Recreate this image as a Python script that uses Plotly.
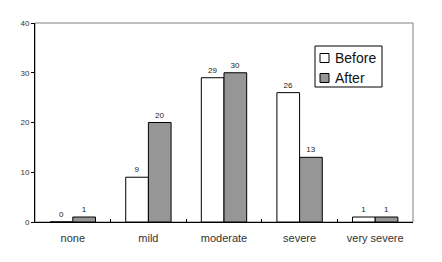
import plotly.graph_objects as go

categories = ["none", "mild", "moderate", "severe", "very severe"]
before = [0, 9, 29, 26, 1]
after = [1, 20, 30, 13, 1]
y_ticks = [0, 10, 20, 30, 40]
series_names = ["Before", "After"]
series_colors = ["white", "#969696"]

fig = go.Figure()
for name, vals, col in zip(series_names, [before, after], series_colors):
    fig.add_trace(go.Bar(name=name, x=categories, y=vals, text=vals,
                         textposition="outside", cliponaxis=False, showlegend=False,
                         marker=dict(color=col, line=dict(color="black", width=1)),
                         textfont=dict(size=8, color="#222")))

# manual legend (pixel-matched box)
W, H = 442, 262
L, R, T, B = 35, 29, 23, 40
pw, ph = W - L - R, H - T - B
def px(x): return (x - L) / pw
def py(y): return (H - B - y) / ph

shapes = [dict(type="rect", xref="paper", yref="paper", x0=0, x1=1, y0=0, y1=1,
               line=dict(color="#808080", width=1), layer="below"),
          dict(type="rect", xref="paper", yref="paper", x0=px(315), x1=px(382),
               y0=py(87), y1=py(46), line=dict(color="black", width=1), fillcolor="white")]
annotations = []
for i, (name, col) in enumerate(zip(series_names, series_colors)):
    cy = 58 + 20 * i
    shapes.append(dict(type="rect", xref="paper", yref="paper", x0=px(320), x1=px(329),
                       y0=py(cy + 4.5), y1=py(cy - 4.5),
                       line=dict(color="black", width=1), fillcolor=col))
    annotations.append(dict(xref="paper", yref="paper", x=px(333), y=py(cy),
                            xanchor="left", yanchor="middle", text=name, showarrow=False,
                            font=dict(size=14, color="#111")))

fig.update_layout(
    width=W, height=H,
    margin=dict(l=L, r=R, t=T, b=B),
    paper_bgcolor="white", plot_bgcolor="white",
    barmode="group", bargap=0.4, bargroupgap=0,
    font=dict(family="Liberation Sans, Arial, sans-serif", color="#222"),
    showlegend=False,
    shapes=shapes, annotations=annotations,
)
fig.update_xaxes(showline=True, linecolor="black", linewidth=1,
                 ticks="inside", ticklen=3, tickcolor="black", tickson="boundaries",
                 ticklabelstandoff=6,
                 tickfont=dict(size=11, color="#333"), showgrid=False)
fig.update_yaxes(range=[0, 40], tickvals=y_ticks, showline=True, linecolor="black",
                 linewidth=1, ticks="outside", ticklen=3, tickcolor="black",
                 tickfont=dict(size=8, color="#333"), showgrid=False, zeroline=False)

fig.write_html("out.html")
